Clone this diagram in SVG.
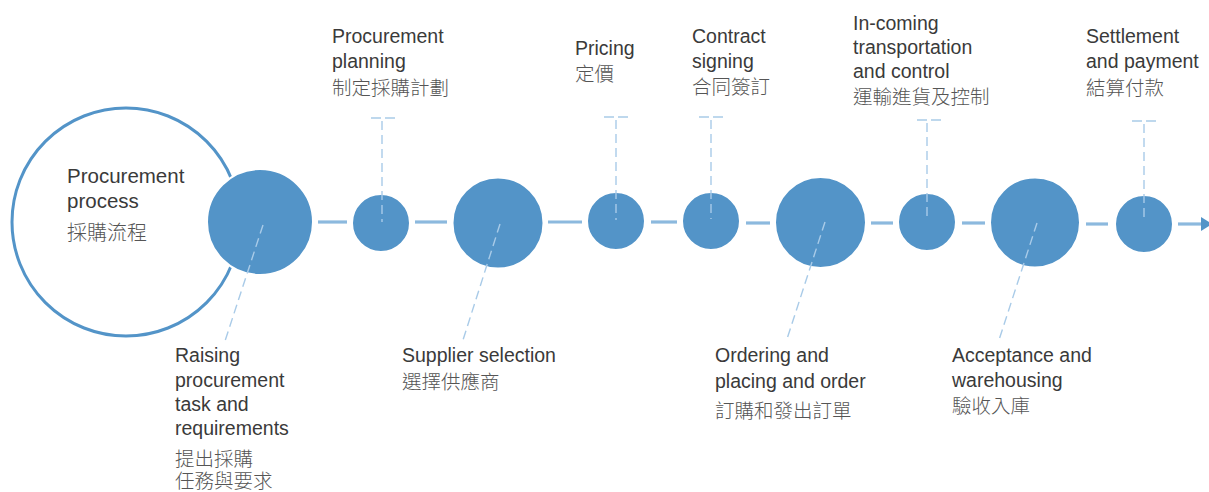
<svg xmlns="http://www.w3.org/2000/svg" width="1209" height="492" viewBox="0 0 1209 492">
<style>
.node{fill:#5394c8;stroke:#ffffff;stroke-width:2}
.conn{stroke:#8cb9de;stroke-width:3.2;fill:none}
.dash{stroke:#a9cbe8;stroke-width:1.4;fill:none;stroke-dasharray:9 5}
.bar{stroke:#a9cbe8;stroke-width:1.4;fill:none;stroke-dasharray:10 4}
.en{font-family:"Liberation Sans",Arial,sans-serif;font-size:19.5px;fill:#3a3a3a}
.zh{font-family:"Noto Sans CJK TC","Noto Sans CJK SC",sans-serif;font-size:19.5px;font-weight:300;fill:#555555}
</style>
<rect width="1209" height="492" fill="#ffffff"/>
<g id="process">
<circle cx="126" cy="222" r="114" fill="none" stroke="#5394c8" stroke-width="3"/>
<text class="en" x="67" y="183" style="font-size:20.5px">Procurement</text>
<text class="en" x="67" y="208" style="font-size:20.5px">process</text>
<text class="zh" x="67" y="240" style="font-size:20px">採購流程</text>
</g>
<g id="connectors">
<line class="conn" x1="318" y1="222" x2="347" y2="222"/>
<line class="conn" x1="415" y1="222" x2="447" y2="222"/>
<line class="conn" x1="548" y1="222" x2="582" y2="222"/>
<line class="conn" x1="651" y1="222" x2="677" y2="222"/>
<line class="conn" x1="746" y1="223" x2="770" y2="223"/>
<line class="conn" x1="871" y1="223" x2="893" y2="223"/>
<line class="conn" x1="962" y1="223" x2="985" y2="223"/>
<line class="conn" x1="1086" y1="224" x2="1108" y2="224"/>
<line class="conn" x1="1178" y1="224" x2="1203" y2="224"/>
<polygon points="1201,217 1212,224 1201,231" fill="#5394c8"/>
</g>
<g id="n1">
<circle class="node" cx="260" cy="222" r="53"/>
<line class="dash" x1="263" y1="225" x2="225" y2="341"/>
<text class="en" x="175" y="362">Raising</text>
<text class="en" x="175" y="387">procurement</text>
<text class="en" x="175" y="411">task and</text>
<text class="en" x="175" y="435">requirements</text>
<text class="zh" x="175" y="466">提出採購</text>
<text class="zh" x="175" y="488">任務與要求</text>
</g>
<g id="n2">
<circle class="node" cx="381" cy="223" r="29"/>
<line class="dash" x1="382" y1="121" x2="382" y2="222"/>
<line class="bar" x1="371" y1="118" x2="395" y2="118"/>
<text class="en" x="332" y="43">Procurement</text>
<text class="en" x="332" y="68">planning</text>
<text class="zh" x="332" y="95">制定採購計劃</text>
</g>
<g id="n3">
<circle class="node" cx="498" cy="223" r="45.5"/>
<line class="dash" x1="500" y1="224" x2="463" y2="340"/>
<text class="en" x="402" y="362">Supplier selection</text>
<text class="zh" x="402" y="389">選擇供應商</text>
</g>
<g id="n4">
<circle class="node" cx="616" cy="221" r="29"/>
<line class="dash" x1="616" y1="120" x2="616" y2="220"/>
<line class="bar" x1="604" y1="117" x2="628" y2="117"/>
<text class="en" x="575" y="55">Pricing</text>
<text class="zh" x="575" y="81">定價</text>
</g>
<g id="n5">
<circle class="node" cx="711" cy="221" r="29"/>
<line class="dash" x1="711" y1="120" x2="711" y2="219"/>
<line class="bar" x1="699" y1="117" x2="723" y2="117"/>
<text class="en" x="692" y="43">Contract</text>
<text class="en" x="692" y="68">signing</text>
<text class="zh" x="692" y="94">合同簽訂</text>
</g>
<g id="n6">
<circle class="node" cx="820.5" cy="222.5" r="45.5"/>
<line class="dash" x1="825" y1="222" x2="787" y2="339"/>
<text class="en" x="715" y="362">Ordering and</text>
<text class="en" x="715" y="388">placing and order</text>
<text class="zh" x="715" y="418">訂購和發出訂單</text>
</g>
<g id="n7">
<circle class="node" cx="927" cy="222" r="29"/>
<line class="dash" x1="927" y1="123" x2="927" y2="219"/>
<line class="bar" x1="917" y1="120" x2="941" y2="120"/>
<text class="en" x="853" y="30">In-coming</text>
<text class="en" x="853" y="54">transportation</text>
<text class="en" x="853" y="78">and control</text>
<text class="zh" x="853" y="104">運輸進貨及控制</text>
</g>
<g id="n8">
<circle class="node" cx="1035" cy="222.5" r="45"/>
<line class="dash" x1="1037" y1="223" x2="999" y2="340"/>
<text class="en" x="952" y="362">Acceptance and</text>
<text class="en" x="952" y="387">warehousing</text>
<text class="zh" x="952" y="413">驗收入庫</text>
</g>
<g id="n9">
<circle class="node" cx="1144" cy="224" r="29"/>
<line class="dash" x1="1144" y1="124" x2="1144" y2="219"/>
<line class="bar" x1="1132" y1="121" x2="1156" y2="121"/>
<text class="en" x="1086" y="43">Settlement</text>
<text class="en" x="1086" y="68">and payment</text>
<text class="zh" x="1086" y="95">結算付款</text>
</g>
</svg>
